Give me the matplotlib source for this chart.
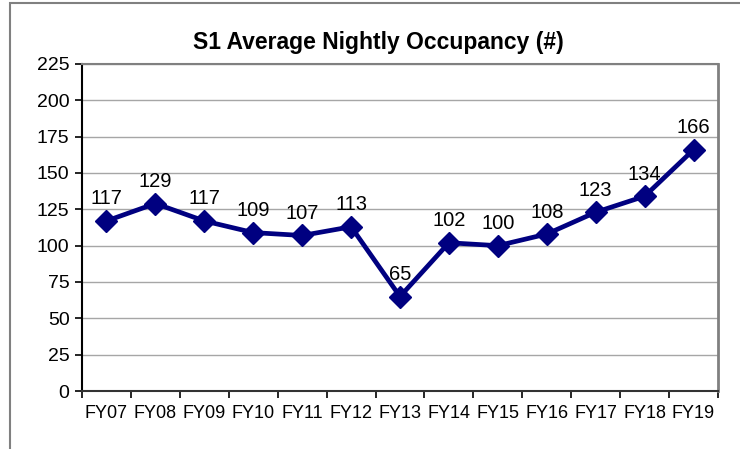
import matplotlib
matplotlib.use('Agg')
import matplotlib.pyplot as plt
from matplotlib.patches import Rectangle

# Data
years = ['FY07', 'FY08', 'FY09', 'FY10', 'FY11', 'FY12', 'FY13',
         'FY14', 'FY15', 'FY16', 'FY17', 'FY18', 'FY19']
occupancy = [117, 129, 117, 109, 107, 113, 65, 102, 100, 108, 123, 134, 166]
y_ticks = [0, 25, 50, 75, 100, 125, 150, 175, 200, 225]

plt.rcParams['font.family'] = ['Liberation Sans', 'DejaVu Sans']

fig = plt.figure(figsize=(7.4, 4.49), dpi=100)
ax = fig.add_axes([82 / 740, 1 - 391 / 449, (718 - 82) / 740, (391 - 64) / 449])

# outer chart border (cut off at right/bottom)
fig.patches.append(Rectangle((10 / 740, -0.1), 1.2, 1 - 3 / 449 + 0.1,
                             transform=fig.transFigure, fill=False,
                             edgecolor='#808080', linewidth=1.5, clip_on=False))

x = list(range(len(years)))
ax.plot(x, occupancy, color='#000080', linewidth=3.4, marker='D',
        markersize=11, zorder=3)

for xi, v in zip(x, occupancy):
    ax.annotate(str(v), (xi, v), xytext=(0, 9), textcoords='offset points',
                ha='center', va='bottom', fontsize=14.5)

ax.set_xlim(-0.5, len(years) - 0.5)
ax.set_ylim(0, 225)
ax.set_yticks(y_ticks)
ax.tick_params(axis='y', labelsize=14, length=5, width=1.2, direction='out', pad=4)
ax.set_xticks(x)
ax.set_xticklabels(years)
ax.set_xticks([i - 0.5 for i in range(len(years) + 1)], minor=True)
ax.tick_params(axis='x', which='major', length=0, labelsize=13, pad=10)
ax.tick_params(axis='x', which='minor', length=5, width=1.2, direction='out')

ax.grid(axis='y', color='#a6a6a6', linewidth=1)
ax.set_axisbelow(True)

ax.spines['left'].set_color('black')
ax.spines['left'].set_linewidth(1.5)
ax.spines['bottom'].set_color('#333333')
ax.spines['bottom'].set_linewidth(1.5)
ax.spines['top'].set_color('#808080')
ax.spines['top'].set_linewidth(1.5)
ax.spines['right'].set_color('#808080')
ax.spines['right'].set_linewidth(2)

fig.text(378 / 740, 1 - 42 / 449, 'S1 Average Nightly Occupancy (#)',
         ha='center', va='center', fontsize=16.5, fontweight='bold')

fig.savefig('out.png', dpi=100)
